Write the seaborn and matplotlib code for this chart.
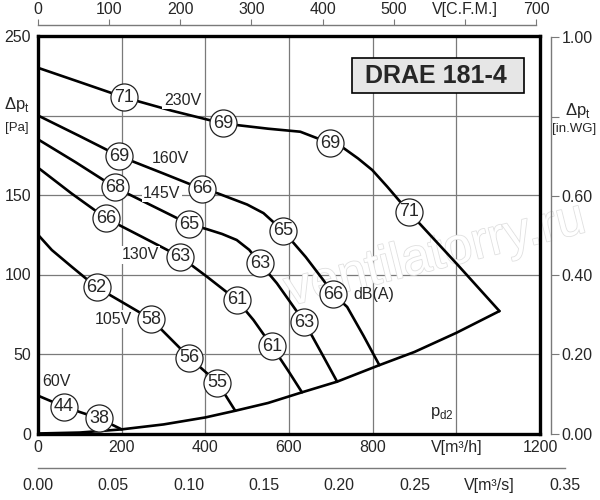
import numpy as np
import pandas as pd
import matplotlib
matplotlib.use("Agg")
import matplotlib.pyplot as plt
import matplotlib.patheffects as pe
from matplotlib.patches import Rectangle
import seaborn as sns

# fan curves: flow [m3/h], total pressure [Pa]
V230_X = [0, 100, 206, 320, 442, 550, 627, 699, 731, 765, 799, 835, 886, 1000, 1103]
V230_Y = [230, 221, 211.4, 203, 195, 191.7, 189.8, 182.5, 179.4, 173, 165.7, 155.2, 139.5, 107, 77]
V160_X = [0, 100, 194, 300, 392, 430, 460, 500, 539, 586, 640, 682, 706, 739, 778, 816]
V160_Y = [200, 187, 174.5, 163.5, 153.8, 151, 148, 144, 138.6, 127.4, 111, 96.5, 87.7, 79.6, 61.5, 43]
V145_X = [0, 90, 184, 270, 362, 404, 440, 475, 505, 531, 571, 637, 680, 715]
V145_Y = [185, 170.6, 154.8, 143.6, 131.6, 128.5, 125.5, 121.7, 115.5, 107, 94.5, 70, 49.5, 32.6]
V130_X = [0, 80, 163, 250, 340, 404, 475, 515, 559, 600, 631]
V130_Y = [167.2, 151, 135.3, 123.5, 111.2, 98.6, 84, 71.4, 55, 38.7, 25.9]
V105_X = [0, 33, 80, 140, 200, 270, 320, 362, 429, 450, 471.5]
V105_Y = [125, 115.4, 105, 92, 82.8, 72, 58.8, 47.7, 32, 23.3, 14.3]
V60_X = [0, 62, 100, 146, 200]
V60_Y = [23.8, 16.9, 13.5, 9.5, 2.6]
PD2_X = [0, 100, 200, 300, 400, 471.5, 550, 631, 715, 816, 900, 1000, 1103]
PD2_Y = [0, 0.6, 2.6, 5.7, 10.1, 14.3, 19.2, 25.9, 32.6, 43, 51.3, 63.3, 77]

# sound level bubbles dB(A)
DB_X = [206, 442, 699, 886, 194, 392, 586, 706, 184, 362, 531, 637,
        163, 340, 475, 559, 140, 270, 362, 429, 62, 146]
DB_Y = [211.4, 195, 182.5, 139.5, 174.5, 153.8, 127.4, 87.7, 154.8, 131.6, 107, 70,
        135.3, 111.2, 84, 55, 92, 72, 47.7, 32, 16.9, 9.5]
DB_LABELS = ["71", "69", "69", "71", "69", "66", "65", "66", "68", "65", "63", "63",
             "66", "63", "61", "61", "62", "58", "56", "55", "44", "38"]

# voltage labels
VOLT_LABELS = ["230V", "160V", "145V", "130V", "105V", "60V"]
VOLT_X = [345, 316, 296, 244, 180, 45]
VOLT_Y = [209.7, 173, 151, 112.3, 72, 32.6]

FLOW_TICKS = [0, 200, 400, 600, 800, 1000, 1200]
FLOW_LABELS = ["0", "200", "400", "600", "800", "V[m³/h]", "1200"]
PA_TICKS = [0, 50, 100, 150, 200, 250]
PA_LABELS = ["0", "50", "100", "150", "", "250"]
CFM_TICKS = [0, 100, 200, 300, 400, 500, 600, 700]
CFM_LABELS = ["0", "100", "200", "300", "400", "500", "V[C.F.M.]", "700"]
INWG_TICKS = [0, 0.2, 0.4, 0.6, 0.8, 1.0]
INWG_LABELS = ["0.00", "0.20", "0.40", "0.60", "", "1.00"]
M3S_TICKS = [0, 0.05, 0.10, 0.15, 0.20, 0.25, 0.30, 0.35]
M3S_LABELS = ["0.00", "0.05", "0.10", "0.15", "0.20", "0.25", "V[m³/s]", "0.35"]

sns.set_style("white")
plt.rcParams["font.family"] = ["Liberation Sans", "DejaVu Sans"]

W, H = 600, 500
fig = plt.figure(figsize=(6, 5), dpi=100)


def fx(px):
    return px / W


def fy(py):
    return 1 - py / H


GRAY = "#7a7a7a"
ax = fig.add_axes([fx(38), fy(433.5), fx(540 - 38), (433.5 - 36) / H])
ax.set_xlim(0, 1200)
ax.set_ylim(0, 250)

curves = pd.concat([
    pd.DataFrame({"flow": x, "pa": y, "curve": name})
    for name, x, y in [("230V", V230_X, V230_Y), ("160V", V160_X, V160_Y),
                       ("145V", V145_X, V145_Y), ("130V", V130_X, V130_Y),
                       ("105V", V105_X, V105_Y), ("60V", V60_X, V60_Y),
                       ("pd2", PD2_X, PD2_Y)]
])
sns.lineplot(data=curves, x="flow", y="pa", units="curve", estimator=None,
             sort=False, color="black", lw=1.9, ax=ax, zorder=3)

bubbles = pd.DataFrame({"flow": DB_X, "pa": DB_Y, "db": DB_LABELS})
sns.scatterplot(data=bubbles, x="flow", y="pa", s=380, color="white",
                edgecolor="#222222", linewidth=0.9, ax=ax, zorder=5)
for x, y, t in zip(DB_X, DB_Y, DB_LABELS):
    ax.text(x, y, t, fontsize=13, ha="center", va="center", zorder=6)

for t, x, y in zip(VOLT_LABELS, VOLT_X, VOLT_Y):
    ax.text(x, y, t, fontsize=11.5, ha="center", va="center", zorder=4,
            bbox=dict(boxstyle="square,pad=0.08", fc="white", ec="none"))
ax.text(754, 87.5, "dB(A)", fontsize=11.5, ha="left", va="center", zorder=4)
ax.text(966, 12.7, r"p$_\mathregular{d2}$", fontsize=12, ha="center", va="center")

# watermark
ax.text(950, 112, "ventilatorry.ru", fontsize=37, rotation=14, ha="center",
        va="center", color="white", zorder=1,
        path_effects=[pe.withStroke(linewidth=1.2, foreground="#e0e0e0")])

# title box
ax.add_patch(Rectangle((751, 214), 410, 22, fc="#e6e6e6", ec="black", lw=1.2, zorder=4))
ax.text(950, 224.8, "DRAE 181-4", fontsize=18, fontweight="bold",
        ha="center", va="center", zorder=5)

ax.set_xticks(FLOW_TICKS)
ax.set_xticklabels(FLOW_LABELS)
ax.set_yticks(PA_TICKS)
ax.set_yticklabels(PA_LABELS)
ax.tick_params(length=0, labelsize=11.5, pad=5)
ax.grid(True, color=GRAY, lw=0.9)
ax.set_xlabel("")
ax.set_ylabel("")
for s in ax.spines.values():
    s.set_visible(True)
    s.set_color("black")
    s.set_linewidth(2.4)
    s.set_zorder(7)

fig.text(fx(17), fy(105), r"Δp$_\mathregular{t}$", fontsize=12, ha="center", va="center")
fig.text(fx(17), fy(128), "[Pa]", fontsize=9.5, ha="center", va="center")
fig.text(fx(578), fy(111), r"Δp$_\mathregular{t}$", fontsize=12, ha="center", va="center")
fig.text(fx(574), fy(129), "[in.WG]", fontsize=9.5, ha="center", va="center")


def bare(a, keep):
    a.patch.set_visible(False)
    for name, s in a.spines.items():
        s.set_visible(name == keep)
        s.set_color(GRAY)
        s.set_linewidth(1.0)


# top axis: C.F.M.
ax_c = fig.add_axes([fx(38), fy(25), fx(536 - 38), 0.0001])
bare(ax_c, "top")
ax_c.set_xlim(0, 700)
ax_c.set_yticks([])
ax_c.set_xticks(CFM_TICKS)
ax_c.set_xticklabels(CFM_LABELS)
ax_c.tick_params(axis="x", top=True, labeltop=True, bottom=False, labelbottom=False,
                 direction="out", length=4.5, color=GRAY, labelsize=11.5, pad=1)

# right axis: in.WG
ax_r = fig.add_axes([fx(551), fy(433.5), 0.0001, (433.5 - 37.4) / H])
bare(ax_r, "right")
ax_r.set_ylim(0, 1)
ax_r.set_xticks([])
ax_r.set_yticks(INWG_TICKS)
ax_r.set_yticklabels(INWG_LABELS)
ax_r.tick_params(axis="y", right=True, labelright=True, left=False, labelleft=False,
                 direction="out", length=5.5, color=GRAY, labelsize=11.5, pad=2)

# bottom axis: m3/s
ax_s = fig.add_axes([fx(38), fy(468), fx(565 - 38), 0.0001])
bare(ax_s, "bottom")
ax_s.set_xlim(0, 0.35)
ax_s.set_yticks([])
ax_s.set_xticks(M3S_TICKS)
ax_s.set_xticklabels(M3S_LABELS)
ax_s.tick_params(axis="x", direction="out", length=5, color=GRAY, labelsize=11.5, pad=2)

fig.savefig("out.png", dpi=100)
plt.close(fig)
